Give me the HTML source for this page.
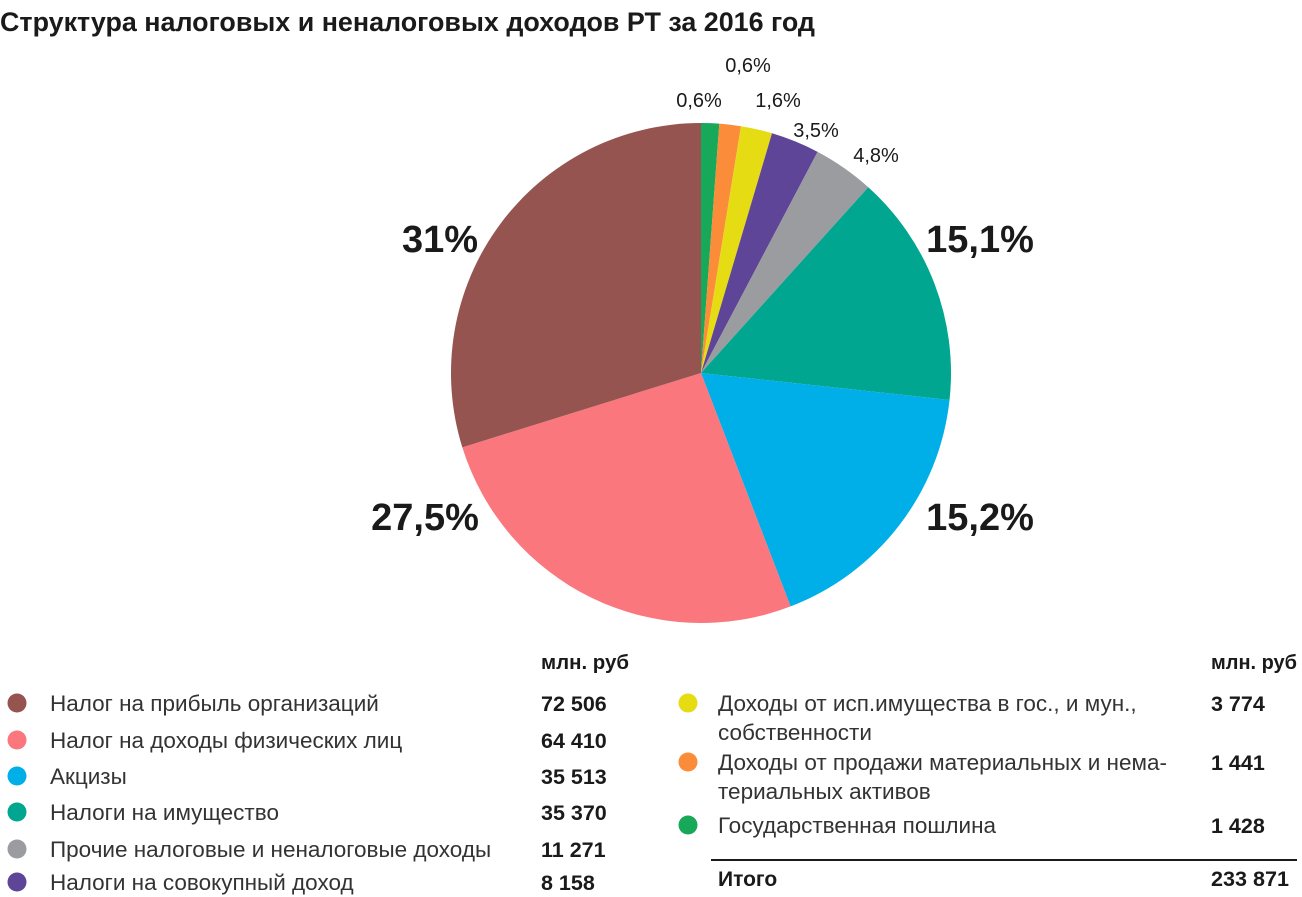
<!DOCTYPE html>
<html><head><meta charset="utf-8"><style>
body{margin:0;background:#fff;}
svg{display:block;font-family:"Liberation Sans Narrow","Liberation Sans",sans-serif;}
</style></head><body>
<svg id="chart" width="1302" height="897" viewBox="0 0 1302 897" xmlns="http://www.w3.org/2000/svg">
<text x="0" y="31" font-size="27" font-weight="bold" fill="#1a1a1a" textLength="815" lengthAdjust="spacingAndGlyphs">Структура налоговых и неналоговых доходов РТ за 2016 год</text>
<g id="slices"></g>
<g id="pct"></g>
<g id="legend"></g>
<text x="541" y="669" font-size="20" font-weight="bold" fill="#1a1a1a" textLength="88" lengthAdjust="spacingAndGlyphs">млн. руб</text>
<text x="1211" y="669" font-size="20" font-weight="bold" fill="#1a1a1a" textLength="86" lengthAdjust="spacingAndGlyphs">млн. руб</text>
<line x1="711" y1="860" x2="1297" y2="860" stroke="#1a1a1a" stroke-width="2"/>
<text x="718" y="886" font-size="21" font-weight="bold" fill="#1a1a1a">Итого</text>
<text x="1211" y="886" font-size="21" font-weight="bold" fill="#1a1a1a" textLength="78" lengthAdjust="spacingAndGlyphs">233 871</text>
</svg>
<script>
const categories = ["Государственная пошлина","Доходы от продажи материальных и нематериальных активов","Доходы от исп.имущества в гос., и мун., собственности","Налоги на совокупный доход","Прочие налоговые и неналоговые доходы","Налоги на имущество","Акцизы","Налог на доходы физических лиц","Налог на прибыль организаций"];
const values = [1428,1441,3774,8158,11271,35370,35513,64410,72506];
// slice shares as drawn in the picture (degrees of arc)
const sliceShares = [4.2,5.0,7.3,11.3,14.2,54.2,62.8,93.7,107.3];
const valueLabels = ["1 428","1 441","3 774","8 158","11 271","35 370","35 513","64 410","72 506"];
const pctLabels = ["0,6%","0,6%","1,6%","3,5%","4,8%","15,1%","15,2%","27,5%","31%"];
const colors = ["#17a85a","#fb8c3a","#e5dc13","#5f4597","#9b9c9f","#00a68f","#00aee8","#f9777d","#955450"];
const NS="http://www.w3.org/2000/svg";
const cx=701, cy=373, R=250;
const total=sliceShares.reduce((a,b)=>a+b,0);
function pt(frac,r){const a=frac*2*Math.PI;return [cx+r*Math.sin(a), cy-r*Math.cos(a)];}
const sg=document.getElementById('slices');
let acc=0;
sliceShares.forEach((v,i)=>{
  const f0=acc/total, f1=(acc+v)/total; acc+=v;
  const [x0,y0]=pt(f0,R),[x1,y1]=pt(f1,R);
  const p=document.createElementNS(NS,'path');
  p.setAttribute('d',`M${cx},${cy}L${x0},${y0}A${R},${R} 0 ${f1-f0>0.5?1:0} 1 ${x1},${y1}Z`);
  p.setAttribute('fill',colors[i]);
  
  
  sg.appendChild(p);
});
const pg=document.getElementById('pct');
const pctPos=[[699,107,20],[748,72,20],[778,107,20],[816,137,20],[876,162,20],[980,252,38],[980,530,38],[425,530,38],[440,252,38]];
pctLabels.forEach((t,i)=>{
  const e=document.createElementNS(NS,'text');
  e.setAttribute('x',pctPos[i][0]);e.setAttribute('y',pctPos[i][1]);
  e.setAttribute('font-size',pctPos[i][2]);e.setAttribute('text-anchor','middle');
  e.setAttribute('font-weight', pctPos[i][2]>30?'bold':'normal');
  e.setAttribute('fill','#1a1a1a');
  e.textContent=t;
  
  
  pg.appendChild(e);
});
const lg=document.getElementById('legend');
const leftOrder=[8,7,6,5,4,3], leftY=[703,740,776,812,849,882];
const rightOrder=[2,1,0], rightY=[703,762,825];
const rightText=[["Доходы от исп.имущества в гос., и мун.,","собственности"],["Доходы от продажи материальных и нема-","териальных активов"],["Государственная пошлина"]];
function addEntry(i,y,dx,tx,vx,lines){
  const g=document.createElementNS(NS,'g');
  
  
  const c=document.createElementNS(NS,'circle');
  c.setAttribute('cx',dx);c.setAttribute('cy',y);c.setAttribute('r',9.5);c.setAttribute('fill',colors[i]);
  g.appendChild(c);
  lines.forEach((l,k)=>{
    const t=document.createElementNS(NS,'text');
    t.setAttribute('x',tx);t.setAttribute('y',y+8+k*29);t.setAttribute('font-size',22.5);t.setAttribute('fill','#333');
    t.textContent=l;g.appendChild(t);
  });
  const v=document.createElementNS(NS,'text');
  v.setAttribute('x',vx);v.setAttribute('y',y+8);v.setAttribute('font-size',21.5);v.setAttribute('font-weight','bold');v.setAttribute('fill','#1a1a1a');
  v.textContent=valueLabels[i];g.appendChild(v);
  lg.appendChild(g);
}
leftOrder.forEach((i,k)=>addEntry(i,leftY[k],17,50,541,[categories[i]]));
rightOrder.forEach((i,k)=>addEntry(i,rightY[k],688,718,1211,rightText[k]));
</script>
</body></html>
